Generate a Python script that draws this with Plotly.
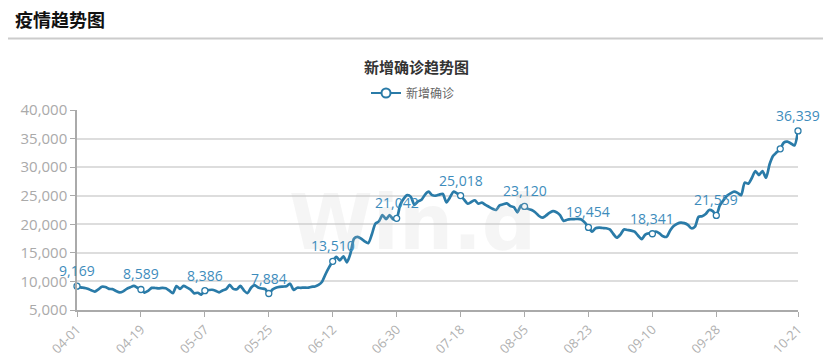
import plotly.graph_objects as go
import datetime as dt

# ---- data ----
start = dt.date(2020, 4, 1)
values = [
    9169, 8950, 8880, 8720, 8450, 8230, 8610, 9080, 9020, 8700,
    8650, 8320, 8080, 8260, 8710, 8980, 9210, 8900, 8589, 8050,
    8330, 8870, 8850, 8800, 8870, 8810, 8400, 7950, 9200, 8700,
    9210, 8920, 8560, 7910, 8020, 7700, 8386, 8480, 8540, 8380,
    8100, 8420, 8650, 9380, 8700, 8640, 9210, 8420, 7950, 8900,
    9360, 8950, 8760, 8650, 7884, 8560, 8900, 9050, 9100, 9160,
    9600, 8500, 8900, 8880, 8920, 8900, 9060, 9120, 9400, 9950,
    11300, 12500, 13510, 14300, 13700, 14400, 13350, 14900, 17500, 17800,
    17500, 17000, 16700, 18200, 20100, 20500, 21600, 20900, 21600, 20900,
    21042, 23400, 24500, 25100, 24800, 23400, 24000, 24300, 25200, 25700,
    25100, 25000, 25200, 25300, 23850, 24700, 25700, 25400, 25018, 24300,
    23600, 23900, 24200, 23600, 23800, 23400, 23050, 22700, 22500, 23300,
    23500, 23650, 23200, 23000, 22100, 23300, 23120, 22700, 22500, 22100,
    21500, 21150, 21500, 22000, 22300, 22100, 21600, 20600, 20800, 20900,
    20900, 20950, 20850, 20300, 19454, 18700, 19300, 19400, 19350, 19300,
    19100, 18300, 17650, 18200, 19100, 19000, 18900, 18700, 18000, 17400,
    18200, 18400, 18341, 18700, 18400, 17900, 17800, 18900, 19700, 20100,
    20300, 20200, 19900, 19300, 19600, 21300, 21400, 21800, 22500, 22300,
    21559, 23300, 24200, 25000, 25400, 25700, 25500, 25100, 27300, 27100,
    28100, 29300, 28600, 29300, 28150, 30500, 32000, 32600, 33200, 34300,
    34450, 34150, 33800, 36339,
]
dates = [(start + dt.timedelta(days=i)).strftime("%m-%d") for i in range(len(values))]
marker_idx = [0, 18, 36, 54, 72, 90, 108, 126, 144, 162, 180, 198, 203]
label_idx = [0, 18, 36, 54, 72, 90, 108, 126, 144, 162, 180, 203]
tick_idx = [0, 18, 36, 54, 72, 90, 108, 126, 144, 162, 180, 203]
y_ticks = [5000, 10000, 15000, 20000, 25000, 30000, 35000, 40000]

series_name = "新增确诊"
chart_title = "新增确诊趋势图"
page_title = "疫情趋势图"

# The page body has an 8px margin; the figure is sized/placed to compensate.
OFF = 8
W, H = 815, 348
ML = 77 - OFF
MT = 110 - OFF
MR = W - (798 - OFF)
MB = H - (310 - OFF)
PW, PH = W - ML - MR, H - MT - MB

def px_x(p):  # page pixel -> paper x
    return (p - OFF - ML) / PW

def px_y(p):  # page pixel -> paper y
    return 1 - (p - OFF - MT) / PH

LINE = "#2a7ba8"
LABEL = "#3d8cbc"
FONT = "Open Sans, Noto Sans CJK SC, sans-serif"
CJK = "Noto Sans CJK SC, sans-serif"

x = list(range(len(values)))

fig = go.Figure()
fig.add_trace(go.Scatter(
    x=x, y=values, mode="lines", line=dict(color=LINE, width=2.7, shape="spline", smoothing=0.7),
    showlegend=False, hoverinfo="skip", cliponaxis=False))
fig.add_trace(go.Scatter(
    x=marker_idx, y=[values[i] for i in marker_idx], mode="markers",
    marker=dict(size=6, color="white", line=dict(color=LINE, width=1.3)),
    showlegend=False, hoverinfo="skip", cliponaxis=False))
fig.add_trace(go.Scatter(
    x=[None], y=[None], mode="lines+markers", name=series_name,
    line=dict(color=LINE, width=2),
    marker=dict(size=9, color="white", line=dict(color=LINE, width=2))))

annotations = [
    dict(text=f"<b>{page_title}</b>", x=px_x(14), y=px_y(19), xref="paper", yref="paper",
         xanchor="left", yanchor="middle", showarrow=False, borderpad=0,
         font=dict(size=18, color="#111", family=CJK)),
    dict(text=f"<b>{chart_title}</b>", x=px_x(416), y=px_y(66), xref="paper", yref="paper",
         xanchor="center", yanchor="middle", showarrow=False,
         font=dict(size=15, color="#333", family=CJK)),
    dict(text="Win.d", x=px_x(412), y=px_y(222), xref="paper", yref="paper",
         xanchor="center", yanchor="middle", showarrow=False,
         font=dict(size=76, color="rgba(200,200,200,0.18)", family="Arial Black, DejaVu Sans", weight="bold")),
]
for i in label_idx:
    annotations.append(dict(
        text=f"{values[i]:,}", x=i, y=values[i], xref="x", yref="y",
        xanchor="center", yanchor="bottom", yshift=4, showarrow=False,
        font=dict(size=14, color=LABEL, family=FONT)))

shapes = [
    dict(type="line", xref="paper", yref="paper", x0=px_x(0), x1=px_x(840), y0=px_y(38.5), y1=px_y(38.5),
         line=dict(color="#cccccc", width=2)),
]

fig.update_layout(
    width=W, height=H,
    margin=dict(l=ML, r=MR, t=MT, b=MB),
    paper_bgcolor="white", plot_bgcolor="white",
    annotations=annotations, shapes=shapes,
    font=dict(family=FONT),
    legend=dict(orientation="h", x=px_x(366), y=px_y(93), xanchor="left", yanchor="middle",
                font=dict(size=12, color="#666", family=CJK), bgcolor="rgba(0,0,0,0)",
                itemwidth=30),
    xaxis=dict(
        range=[0, len(values) - 1], tickmode="array", tickvals=tick_idx,
        ticktext=[dates[i] for i in tick_idx], tickangle=-45, automargin=False,
        showgrid=False, zeroline=False, showline=True, linecolor="#aaaaaa", linewidth=1.5,
        ticks="outside", ticklen=5, tickcolor="#aaaaaa",
        tickfont=dict(size=13, color="#b0b0b0", family=FONT)),
    yaxis=dict(
        range=[5000, 40000], tickmode="array", tickvals=y_ticks,
        ticktext=[f"{v:,}" for v in y_ticks], automargin=False,
        showgrid=True, gridcolor="#dddddd", gridwidth=1.5, zeroline=False,
        showline=True, linecolor="#aaaaaa", linewidth=1.5,
        ticks="outside", ticklen=5, tickcolor="#aaaaaa",
        tickfont=dict(size=15, color="#aaaaaa", family=FONT)),
)

fig.write_html("out.html")
